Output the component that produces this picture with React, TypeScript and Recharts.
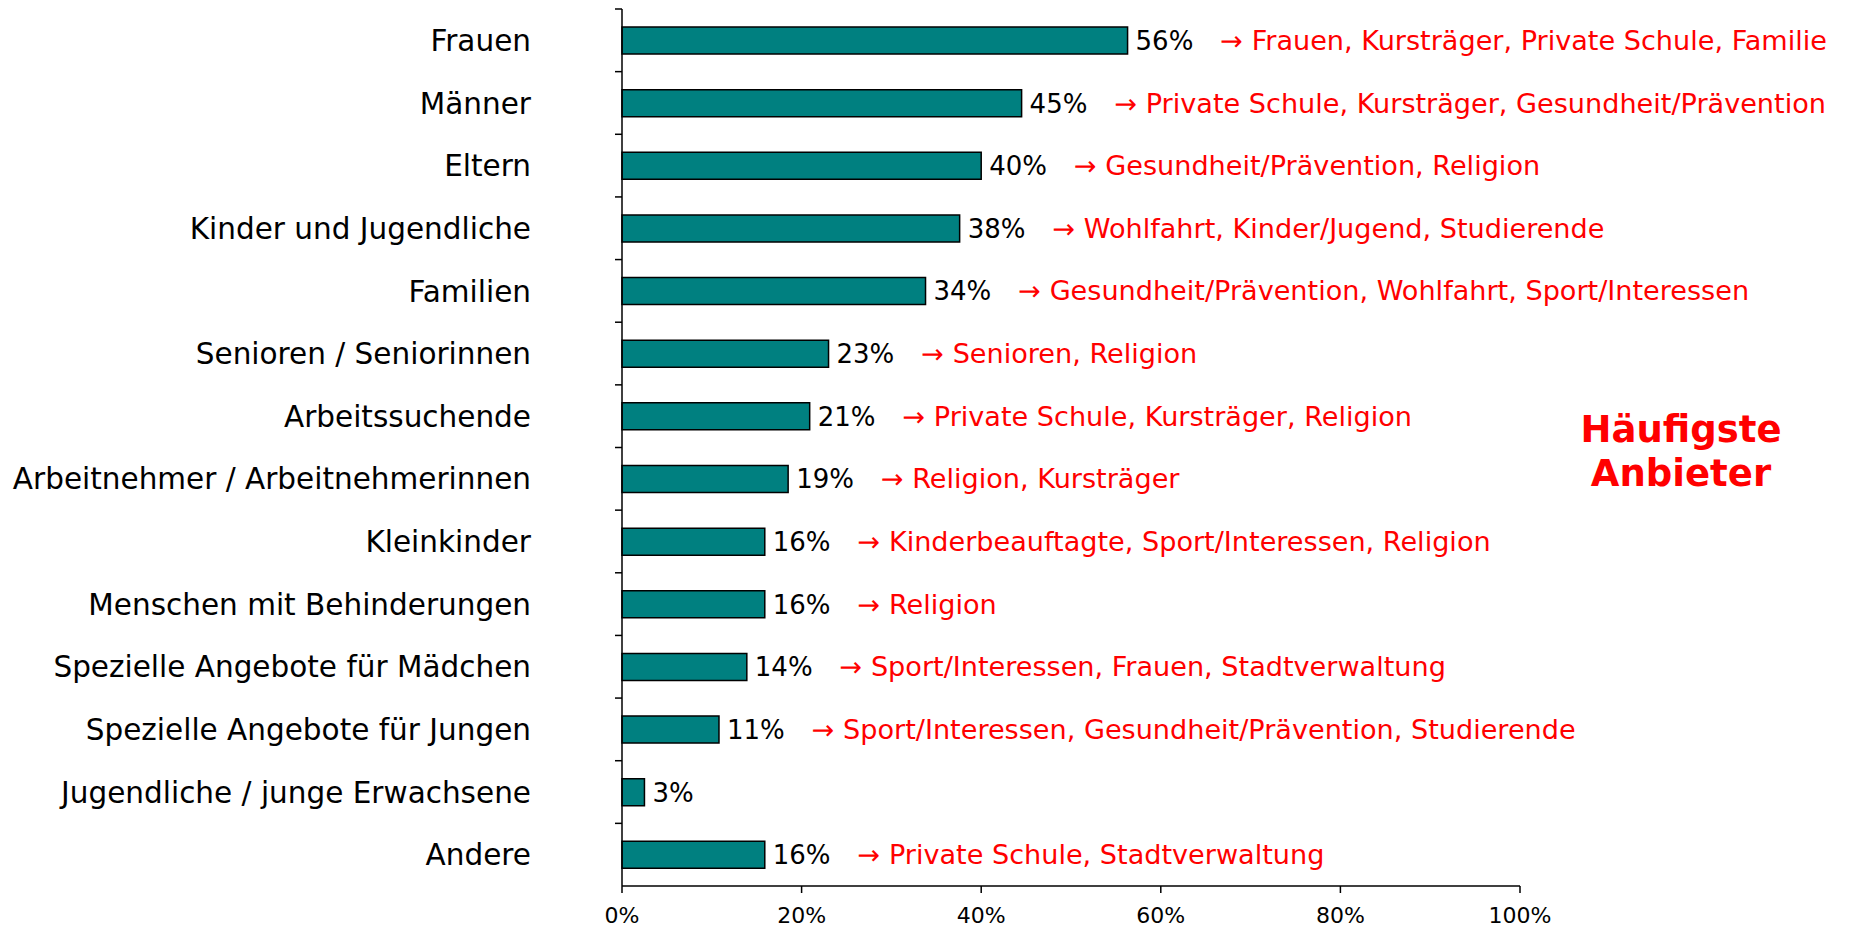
import { BarChart, Bar, XAxis, YAxis, LabelList } from 'recharts'

const categories = [
  'Frauen',
  'Männer',
  'Eltern',
  'Kinder und Jugendliche',
  'Familien',
  'Senioren / Seniorinnen',
  'Arbeitssuchende',
  'Arbeitnehmer / Arbeitnehmerinnen',
  'Kleinkinder',
  'Menschen mit Behinderungen',
  'Spezielle Angebote für Mädchen',
  'Spezielle Angebote für Jungen',
  'Jugendliche / junge Erwachsene',
  'Andere',
]

const values = [56.3, 44.5, 40.0, 37.6, 33.8, 23.0, 20.9, 18.5, 15.9, 15.9, 13.9, 10.8, 2.5, 15.9]
const valueLabels = ['56%', '45%', '40%', '38%', '34%', '23%', '21%', '19%', '16%', '16%', '14%', '11%', '3%', '16%']

const anbieter = [
  'Frauen, Kursträger, Private Schule, Familie',
  'Private Schule, Kursträger, Gesundheit/Prävention',
  'Gesundheit/Prävention, Religion',
  'Wohlfahrt, Kinder/Jugend, Studierende',
  'Gesundheit/Prävention, Wohlfahrt, Sport/Interessen',
  'Senioren, Religion',
  'Private Schule, Kursträger, Religion',
  'Religion, Kursträger',
  'Kinderbeauftagte, Sport/Interessen, Religion',
  'Religion',
  'Sport/Interessen, Frauen, Stadtverwaltung',
  'Sport/Interessen, Gesundheit/Prävention, Studierende',
  '',
  'Private Schule, Stadtverwaltung',
]

const xTicks = [0, 20, 40, 60, 80, 100]

const FONT = '"DejaVu Sans", Verdana, sans-serif'

const rows = categories.map((name, i) => ({ name, value: values[i] }))

// category label + boundary tick marks (Excel style, between categories)
const CatTick = (props: any) => {
  const { x, y, payload } = props
  const half = payload && payload.offset ? payload.offset : 31.3
  return (
    <g>
      <line x1={x - 7} x2={x} y1={y - half} y2={y - half} stroke="#000" strokeWidth={1.5} />
      <text
        x={x - 91}
        y={y}
        dy="0.36em"
        textAnchor="end"
        fontSize={29.5}
        fontFamily={FONT}
        fill="#000"
      >
        {payload.value}
      </text>
    </g>
  )
}

const ValueLabel = (props: any) => {
  const { x, y, width, height, index } = props
  const note = anbieter[index]
  return (
    <text
      x={x + width + 8}
      y={y + height / 2}
      dy="0.36em"
      fontSize={26}
      fontFamily={FONT}
      fill="#000"
    >
      {valueLabels[index]}
      {note ? (
        <tspan dx={27} fill="#ff0000" fontSize={27.1}>
          {`→ ${note}`}
        </tspan>
      ) : null}
    </text>
  )
}

export default function App() {
  return (
    <div
      style={{
        position: 'absolute',
        left: 0,
        top: 0,
        width: 1852,
        height: 929,
        background: '#fff',
        fontFamily: FONT,
      }}
    >
      <BarChart
        layout="vertical"
        width={1852}
        height={929}
        data={rows}
        margin={{ top: 9, right: 332, bottom: 0, left: 0 }}
      >
        <XAxis
          type="number"
          domain={[0, 100]}
          ticks={xTicks}
          tickFormatter={(v) => `${v}%`}
          height={43}
          tickSize={7}
          tickMargin={14}
          axisLine={{ stroke: '#000', strokeWidth: 1.5 }}
          tickLine={{ stroke: '#000', strokeWidth: 1.5 }}
          tick={{ fontSize: 22, fill: '#000', fontFamily: FONT }}
          interval={0}
        />
        <YAxis
          type="category"
          dataKey="name"
          width={622}
          tickSize={0}
          tickMargin={0}
          tickLine={false}
          axisLine={{ stroke: '#000', strokeWidth: 1.5 }}
          tick={<CatTick />}
          interval={0}
        />
        <Bar
          dataKey="value"
          fill="#008080"
          stroke="#000"
          strokeWidth={1.5}
          barSize={27}
          isAnimationActive={false}
        >
          <LabelList dataKey="value" content={<ValueLabel />} />
        </Bar>
      </BarChart>
      <div
        style={{
          position: 'absolute',
          left: 1531,
          top: 408,
          width: 300,
          textAlign: 'center',
          color: '#ff0000',
          fontWeight: 'bold',
          fontSize: 37,
          lineHeight: '44px',
        }}
      >
        Häufigste
        <br />
        Anbieter
      </div>
    </div>
  )
}
